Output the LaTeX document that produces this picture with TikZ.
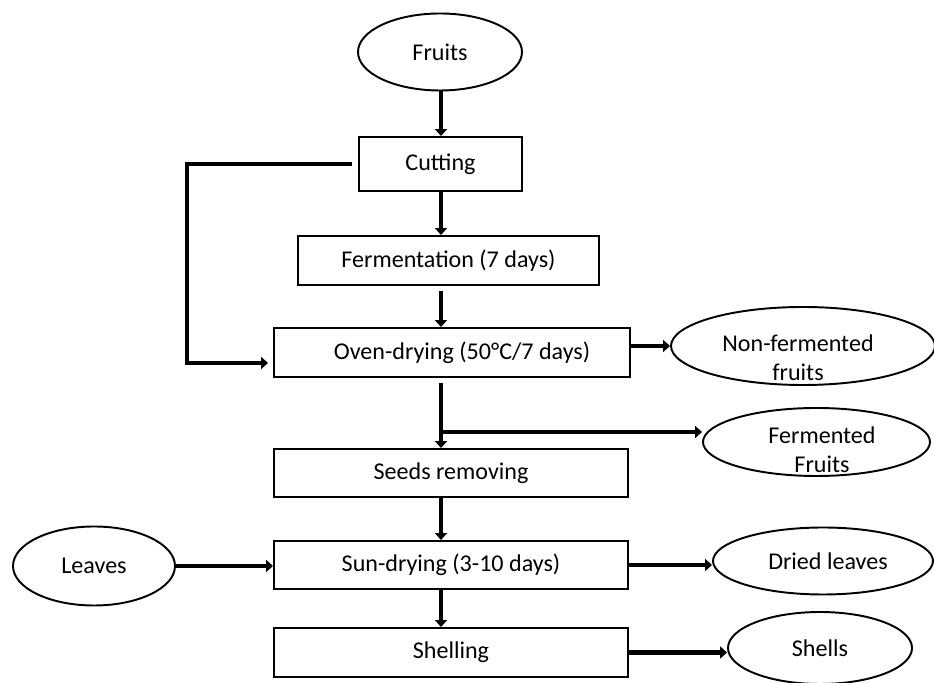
\documentclass[tikz,border=0pt]{standalone}
\usepackage{fontspec}
\setmainfont{Carlito}
\usetikzlibrary{arrows.meta,positioning,shapes.geometric}

\begin{document}
\begin{tikzpicture}[
  every node/.style={font=\fontsize{13.7}{16.4}\selectfont},
  procbox/.style={draw, line width=1.1pt, rectangle, inner sep=0pt, minimum width=7.08cm, minimum height=0.98cm},
  endoval/.style={draw, line width=1.1pt, ellipse, inner sep=0pt},
  flow/.style={line width=2.8pt, -{Triangle[width=0.24cm,length=0.14cm]}}
]
\useasboundingbox (0,0) rectangle (18.68,13.66);

% Process steps
\node[endoval, minimum width=3.28cm, minimum height=1.54cm] (fruits) at (8.80,12.62) {Fruits};
\node[procbox, minimum width=3.26cm, minimum height=1.08cm] (cutting) at (8.81,10.38) {Cutting};
\node[procbox, minimum width=6.02cm] (ferment) at (8.97,8.45) {Fermentation (7 days)};
\node[procbox, minimum width=7.12cm] (oven) at (9.04,6.61) {\hspace*{0.4cm}Oven-drying (50°C/7 days)};
\node[procbox, minimum height=0.96cm] (seeds) at (9.02,4.20) {Seeds removing};
\node[procbox, minimum height=0.96cm] (sun) at (9.02,2.36) {Sun-drying (3-10 days)};
\node[procbox] (shelling) at (9.02,0.61) {Shelling};

% Side products
\node[endoval, minimum width=5.28cm, minimum height=1.56cm] (nonferm) at (16.06,6.74) {};
\node (nonfermtop) at (15.96,6.80) {Non-fermented};
\node (nonfermbot) at (15.96,6.22) {fruits};
\node[endoval, minimum width=4.54cm, minimum height=1.36cm] (ferm) at (16.33,4.82) {};
\node (fermtop) at (16.44,4.96) {Fermented};
\node (fermbot) at (16.44,4.38) {Fruits};
\node[endoval, minimum width=3.24cm, minimum height=1.58cm] (leaves) at (1.88,2.34) {Leaves};
\node[endoval, minimum width=4.40cm, minimum height=1.34cm] (dried) at (16.46,2.44) {\hspace*{0.2cm}Dried leaves};
\node[endoval, minimum width=3.68cm, minimum height=1.44cm] (shells) at (16.40,0.70) {Shells};

% Main flow
\coordinate (axis) at (8.82,0);
\draw[flow] (fruits.south -| axis) -- (cutting.north -| axis);
\draw[flow] (cutting.south -| axis) -- (ferment.north -| axis);
\draw[flow] ([yshift=-0.1cm]ferment.south -| axis) -- (oven.north -| axis);
\draw[flow] ([yshift=-0.1cm]oven.south -| axis) -- (seeds.north -| axis);
\draw[flow] (seeds.south -| axis) -- (sun.north -| axis);
\draw[flow] (sun.south -| axis) -- (shelling.north -| axis);

% Bypass loop
\coordinate (loopcorner) at (3.74,6.40);
\draw[flow, shorten >=0.1cm] ([xshift=-0.12cm]cutting.west) -| (loopcorner) -- (loopcorner -| oven.west);

% Branches
\coordinate (branch) at (8.82,5.02);
\draw[flow] (oven.east |- nonferm.west) -- (nonferm.west);
\draw[flow] (branch) -- (branch -| ferm.west);
\draw[flow] (leaves.east) -- (leaves.east -| sun.west);
\draw[flow] (sun.east) -- (sun.east -| dried.west);
\draw[flow] (shelling.east) -- (shelling.east -| shells.west);

\end{tikzpicture}
\end{document}
